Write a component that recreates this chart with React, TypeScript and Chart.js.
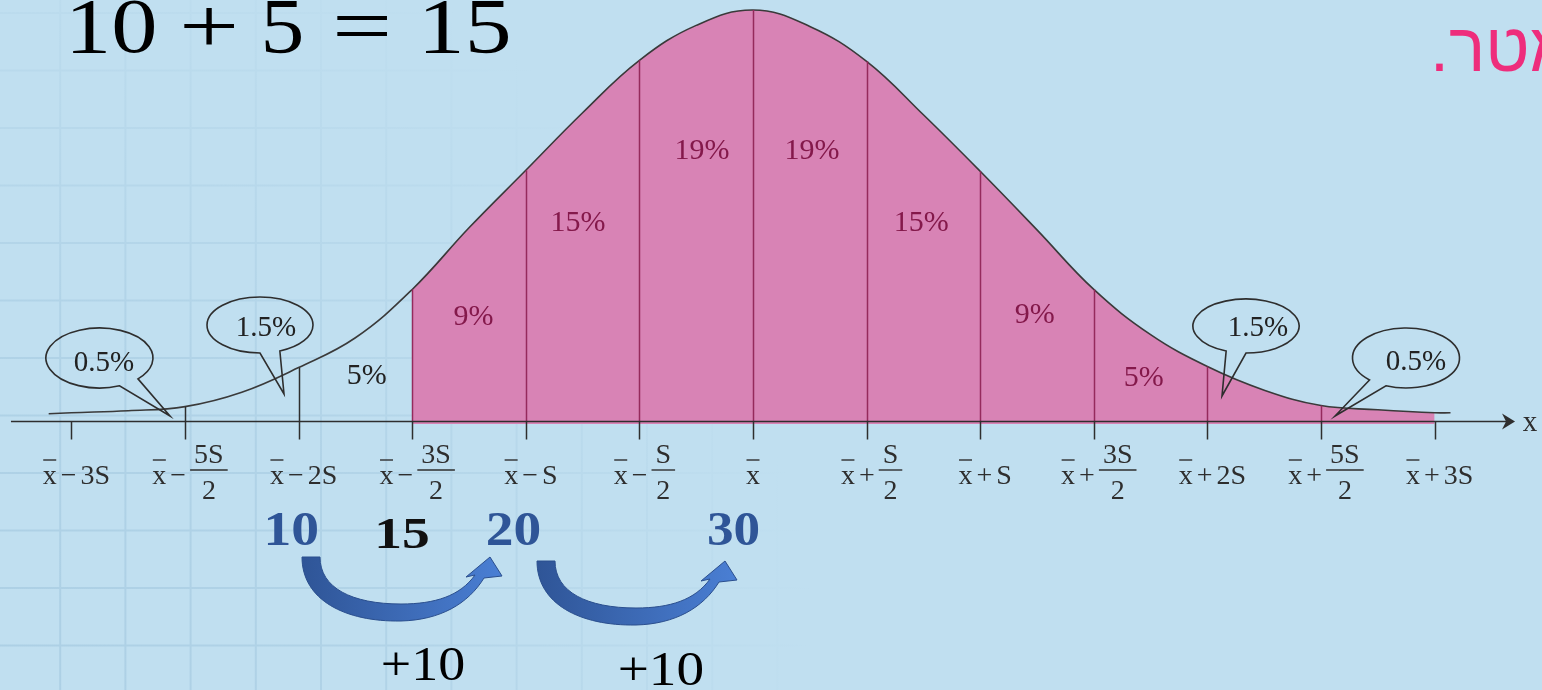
import React, { useEffect, useRef } from 'react';
import { Chart, registerables } from 'chart.js';

Chart.register(...registerables);

// ---------------- data ----------------
// positions along the axis, in units of S away from the mean (x̄ = 0)
const curveX = [-3.1, -3, -2.75, -2.5, -2.25, -2, -1.75, -1.5, -1.25, -1, -0.75, -0.5, -0.25, 0, 0.25, 0.5, 0.75, 1, 1.25, 1.5, 1.75, 2, 2.25, 2.5, 2.75, 3, 3.07];
// curve heights (relative units, peak = 40)
const curveY = [0.7, 0.8, 1.0, 1.4, 2.8, 5.2, 8.1, 12.8, 18.8, 24.4, 30.0, 35.1, 38.5, 40, 38.4, 35.0, 29.8, 24.3, 18.6, 12.8, 8.4, 5.3, 3.0, 1.5, 1.1, 0.8, 0.8];
const shadeFrom = -1.5;
const shadeTo = 3;
const dividerX = [-2.5, -2, -1.5, -1, -0.5, 0, 0.5, 1, 1.5, 2, 2.5];
const tickX = [-3, -2.5, -2, -1.5, -1, -0.5, 0, 0.5, 1, 1.5, 2, 2.5, 3];
const tickSign = ['−', '−', '−', '−', '−', '−', '', '+', '+', '+', '+', '+', '+'];
const tickTerm = ['3S', '5S/2', '2S', '3S/2', 'S', 'S/2', '', 'S/2', 'S', '3S/2', '2S', '5S/2', '3S'];
const bandLabels = ['5%', '9%', '15%', '19%', '19%', '15%', '9%', '5%'];
const tailLabels = ['0.5%', '1.5%', '1.5%', '0.5%'];
const titleTokens = ['10', '+', '5', '=', '15'];
const stepNumbers = ['10', '15', '20', '30'];
const stepIncrements = ['+10', '+10'];
const hebrewText = 'פרמטר.';
const axisName = 'x';

// ---------------- layout / style ----------------
const W = 1542;
const H = 690;
const X_MIN = -3.3143;
const X_MAX = 3.4727;
const Y_MIN = -26.18;
const Y_MAX = 40.97;
const AXIS_FROM = -3.266;
const AXIS_TO = 3.354;

const BG = '#c0dff0';
const PINK = '#d883b5';
const PINK_LINE = '#952a5c';
const PINK_TEXT = '#84194b';
const INK = '#2e2e2e';
const CURVE = '#3a3a3a';
const BLUE = '#2f5597';
const HEB = '#ee2d7c';
const SERIF = '"Liberation Serif", "Times New Roman", serif';

const GRID = { x0: -5, dx: 65.2, y0: 13, dy: 57.5 };

// band label positions (x in S units, baseline in height units)
const bandLabelX = [-1.7, -1.23, -0.77, -0.225, 0.26, 0.74, 1.24, 1.72];
const bandLabelY = [3.6, 9.34, 18.5, 25.5, 25.5, 18.5, 9.54, 3.41];

// callouts: ellipse + tail (angles in degrees)
const callouts = [
  { cx: 99.5, cy: 358, rx: 53.5, ry: 30, a1: 68, a2: 44, tx: 170, ty: 416, lx: 104, ly: 371 },
  { cx: 260, cy: 325, rx: 53, ry: 28, a1: 90, a2: 68, tx: 284, ty: 394, lx: 266, ly: 336 },
  { cx: 1246, cy: 326, rx: 53, ry: 27, a1: 112, a2: 90, tx: 1222, ty: 396, lx: 1258, ly: 336 },
  { cx: 1406, cy: 358, rx: 53.5, ry: 30, a1: 133, a2: 112, tx: 1335, ty: 416, lx: 1416, ly: 370 },
];

const titleBoxes = [[72, 155], [183, 235], [265, 301], [336, 388], [425, 508]];
const stepBoxes = [
  { x0: 267, x1: 318, base: 545, color: BLUE, size: 48 },
  { x0: 378, x1: 428, base: 548, color: '#111111', size: 45 },
  { x0: 488, x1: 540, base: 545, color: BLUE, size: 48 },
  { x0: 708, x1: 759, base: 545, color: BLUE, size: 48 },
];
const incBoxes = [
  { x0: 383, x1: 464, base: 680 },
  { x0: 620, x1: 703, base: 685 },
];
const arrowShifts = [[0, 0], [235, 4]];

function fitText(ctx: CanvasRenderingContext2D, text: string, x0: number, x1: number, baseline: number, font: string) {
  ctx.font = font;
  ctx.textAlign = 'left';
  ctx.textBaseline = 'alphabetic';
  const m = ctx.measureText(text);
  const ink = m.actualBoundingBoxLeft + m.actualBoundingBoxRight;
  const sx = ink > 0 ? (x1 - x0) / ink : 1;
  ctx.save();
  ctx.translate(x0, baseline);
  ctx.scale(sx, 1);
  ctx.fillText(text, m.actualBoundingBoxLeft, 0);
  ctx.restore();
}

function drawTickLabel(ctx: CanvasRenderingContext2D, cx: number, sign: string, term: string) {
  ctx.font = `28px ${SERIF}`;
  ctx.textAlign = 'left';
  ctx.textBaseline = 'alphabetic';
  const base = 484;
  const gap = 4;
  const xW = ctx.measureText('x').width;
  const signW = sign ? ctx.measureText(sign).width : 0;
  let termW = 0;
  let num = '';
  let den = '';
  const isFrac = term.includes('/');
  if (isFrac) {
    [num, den] = term.split('/');
    termW = Math.max(ctx.measureText(num).width, ctx.measureText(den).width) + 8;
  } else if (term) {
    termW = ctx.measureText(term).width;
  }
  const total = xW + (sign ? gap + signW + gap + termW : 0);
  const x0 = cx - total / 2;
  ctx.fillText('x', x0, base);
  ctx.lineWidth = 1.4;
  ctx.beginPath();
  ctx.moveTo(x0 + 0.5, base - 24);
  ctx.lineTo(x0 + xW - 0.5, base - 24);
  ctx.stroke();
  if (!sign) return;
  const sx = x0 + xW + gap;
  ctx.fillText(sign, sx, base);
  const tx = sx + signW + gap;
  if (isFrac) {
    const fc = tx + termW / 2;
    ctx.textAlign = 'center';
    ctx.fillText(num, fc, 463);
    ctx.fillText(den, fc, 499);
    ctx.beginPath();
    ctx.moveTo(tx, 470);
    ctx.lineTo(tx + termW, 470);
    ctx.stroke();
    ctx.textAlign = 'left';
  } else {
    ctx.fillText(term, tx, base);
  }
}

function drawArrow(ctx: CanvasRenderingContext2D, dx: number, dy: number) {
  ctx.save();
  ctx.translate(dx, dy);
  ctx.beginPath();
  ctx.moveTo(302, 557);
  ctx.bezierCurveTo(302, 600, 345, 622, 401, 621);
  ctx.bezierCurveTo(440, 620, 468, 604, 484, 578);
  ctx.lineTo(502, 576);
  ctx.lineTo(490, 557);
  ctx.lineTo(466, 577);
  ctx.lineTo(475, 575);
  ctx.bezierCurveTo(460, 596, 435, 604, 401, 604);
  ctx.bezierCurveTo(352, 604, 320, 588, 320, 557);
  ctx.closePath();
  const g = ctx.createLinearGradient(303, 0, 502, 0);
  g.addColorStop(0, '#2f5597');
  g.addColorStop(1, '#4a7fd4');
  ctx.fillStyle = g;
  ctx.fill();
  ctx.strokeStyle = '#2b4f8e';
  ctx.lineWidth = 1;
  ctx.stroke();
  ctx.restore();
}

const overlay = {
  id: 'overlay',
  beforeDraw(chart: any) {
    const ctx: CanvasRenderingContext2D = chart.ctx;
    ctx.save();
    ctx.fillStyle = BG;
    ctx.fillRect(0, 0, chart.width, chart.height);
    const g = ctx.createRadialGradient(0, 690, 0, 0, 690, 820);
    g.addColorStop(0, 'rgba(140,182,210,0.38)');
    g.addColorStop(0.45, 'rgba(140,182,210,0.3)');
    g.addColorStop(1, 'rgba(140,182,210,0)');
    ctx.strokeStyle = g;
    ctx.lineWidth = 2;
    ctx.beginPath();
    for (let x = GRID.x0; x < chart.width; x += GRID.dx) {
      ctx.moveTo(x, 0);
      ctx.lineTo(x, chart.height);
    }
    for (let y = GRID.y0; y < chart.height; y += GRID.dy) {
      ctx.moveTo(0, y);
      ctx.lineTo(chart.width, y);
    }
    ctx.stroke();
    ctx.restore();
  },
  afterDatasetsDraw(chart: any) {
    const ctx: CanvasRenderingContext2D = chart.ctx;
    const xs = chart.scales.x;
    const ys = chart.scales.y;
    const px = (v: number) => xs.getPixelForValue(v);
    const py = (v: number) => ys.getPixelForValue(v);
    const axisY = Math.round(py(0)) + 0.5;
    ctx.save();

    // vertical dividers from the curve to the axis
    ctx.lineWidth = 1.5;
    dividerX.forEach((d) => {
      const h = curveY[curveX.indexOf(d)];
      const x = Math.round(px(d)) + 0.5;
      ctx.strokeStyle = d >= shadeFrom ? PINK_LINE : INK;
      ctx.beginPath();
      ctx.moveTo(x, py(h));
      ctx.lineTo(x, axisY);
      ctx.stroke();
    });

    // axis line
    ctx.strokeStyle = INK;
    ctx.fillStyle = INK;
    ctx.lineWidth = 1.7;
    const tip = px(AXIS_TO);
    ctx.beginPath();
    ctx.moveTo(px(AXIS_FROM), axisY);
    ctx.lineTo(tip - 8, axisY);
    ctx.stroke();
    ctx.beginPath();
    ctx.moveTo(tip, axisY);
    ctx.lineTo(tip - 13, axisY - 8);
    ctx.lineTo(tip - 9, axisY);
    ctx.lineTo(tip - 13, axisY + 8);
    ctx.closePath();
    ctx.fill();

    // ticks below the axis
    ctx.lineWidth = 1.5;
    tickX.forEach((t) => {
      const x = Math.round(px(t)) + 0.5;
      ctx.beginPath();
      ctx.moveTo(x, axisY);
      ctx.lineTo(x, axisY + 18);
      ctx.stroke();
    });

    // axis name
    ctx.font = `29px ${SERIF}`;
    ctx.textAlign = 'center';
    ctx.textBaseline = 'alphabetic';
    ctx.fillText(axisName, tip + 15, axisY + 9);

    // tick labels
    ctx.fillStyle = INK;
    ctx.strokeStyle = INK;
    tickX.forEach((t, i) => {
      const shift = tickSign[i] ? 5 : 0;
      drawTickLabel(ctx, px(t) + shift, tickSign[i], tickTerm[i]);
    });

    // band labels
    ctx.font = `30px ${SERIF}`;
    ctx.textAlign = 'center';
    bandLabels.forEach((lab, i) => {
      ctx.fillStyle = bandLabelX[i] >= shadeFrom ? PINK_TEXT : '#222222';
      ctx.fillText(lab, px(bandLabelX[i]), py(bandLabelY[i]));
    });

    // callouts
    ctx.strokeStyle = '#2e2e2e';
    ctx.lineWidth = 1.6;
    ctx.fillStyle = '#222222';
    callouts.forEach((c, i) => {
      ctx.beginPath();
      ctx.ellipse(c.cx, c.cy, c.rx, c.ry, 0, (c.a1 * Math.PI) / 180, (c.a2 * Math.PI) / 180, false);
      ctx.lineTo(c.tx, c.ty);
      ctx.closePath();
      ctx.stroke();
      ctx.font = `29px ${SERIF}`;
      ctx.textAlign = 'center';
      ctx.fillText(tailLabels[i], c.lx, c.ly);
    });

    // title equation
    ctx.fillStyle = '#000000';
    titleTokens.forEach((tok, i) => {
      fitText(ctx, tok, titleBoxes[i][0], titleBoxes[i][1], 52, `78px ${SERIF}`);
    });

    // Hebrew fragment at the right edge
    ctx.save();
    ctx.fillStyle = HEB;
    ctx.font = '68px "Liberation Sans", "DejaVu Sans", sans-serif';
    (ctx as any).direction = 'rtl';
    ctx.textAlign = 'left';
    ctx.fillText(hebrewText, 1430, 71);
    ctx.restore();

    // step numbers
    stepNumbers.forEach((n, i) => {
      const b = stepBoxes[i];
      ctx.fillStyle = b.color;
      fitText(ctx, n, b.x0, b.x1, b.base, `bold ${b.size}px ${SERIF}`);
    });

    // arrows
    arrowShifts.forEach(([dx, dy]) => drawArrow(ctx, dx, dy));

    // increments
    ctx.fillStyle = '#000000';
    stepIncrements.forEach((s, i) => {
      const b = incBoxes[i];
      fitText(ctx, s, b.x0, b.x1, b.base, `48px ${SERIF}`);
    });

    ctx.restore();
  },
};

export default function App() {
  const ref = useRef<HTMLCanvasElement | null>(null);

  useEffect(() => {
    if (!ref.current) return;
    const curvePts = curveX.map((x, i) => ({ x, y: curveY[i] }));
    const shadePts = curvePts.filter((p) => p.x >= shadeFrom && p.x <= shadeTo);
    const chart = new Chart(ref.current, {
      type: 'line',
      data: {
        datasets: [
          {
            label: 'curve',
            data: curvePts,
            borderColor: CURVE,
            borderWidth: 1.6,
            pointRadius: 0,
            pointHoverRadius: 0,
            fill: false,
            tension: 0.4,
            order: 1,
          },
          {
            label: 'shade',
            data: shadePts,
            borderColor: 'rgba(0,0,0,0)',
            borderWidth: 0,
            backgroundColor: PINK,
            pointRadius: 0,
            pointHoverRadius: 0,
            fill: { value: -0.3 },
            tension: 0.4,
            order: 2,
          },
        ],
      },
      options: {
        animation: false,
        responsive: false,
        devicePixelRatio: 1,
        events: [],
        layout: { padding: 0 },
        plugins: {
          legend: { display: false },
          tooltip: { enabled: false },
          title: { display: false },
        },
        scales: {
          x: { type: 'linear', min: X_MIN, max: X_MAX, display: false },
          y: { type: 'linear', min: Y_MIN, max: Y_MAX, display: false },
        },
      } as any,
      plugins: [overlay as any],
    });
    return () => chart.destroy();
  }, []);

  return (
    <div style={{ position: 'fixed', left: 0, top: 0, width: W, height: H, overflow: 'hidden', background: BG }}>
      <canvas ref={ref} width={W} height={H} style={{ display: 'block', width: W, height: H }} />
    </div>
  );
}
